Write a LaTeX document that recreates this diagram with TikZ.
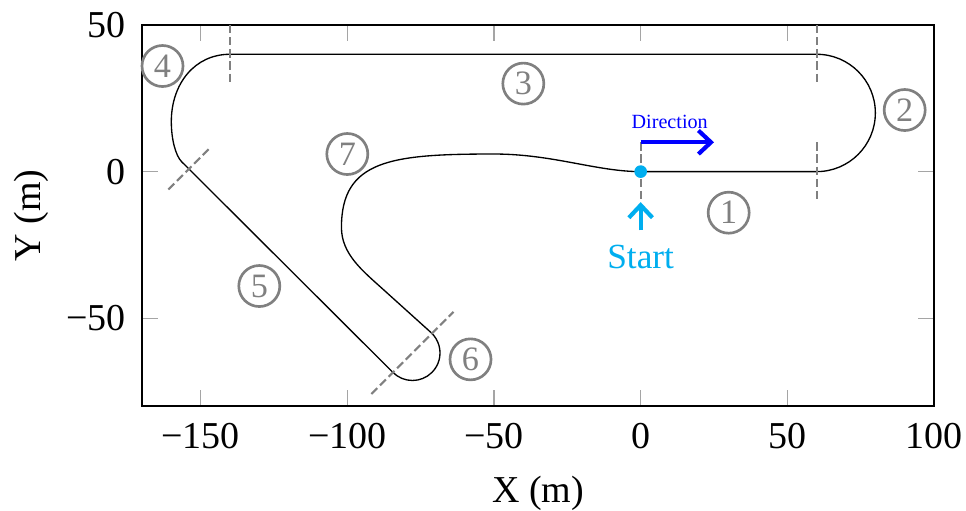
\documentclass[tikz,border=0pt]{standalone}
\usepackage{fontspec}
\setmainfont{Liberation Serif}
\usetikzlibrary{arrows.meta}
\definecolor{startcyan}{RGB}{0,174,239}
\definecolor{markgray}{RGB}{128,128,128}
\definecolor{tickgray}{RGB}{165,165,165}
\begin{document}
\begin{tikzpicture}[x=0.7721pt,y=0.7721pt,
  track/.style={black, line width=0.35pt},
  marker/.style={markgray, line width=0.55pt, dash pattern=on 2.2pt off 1pt},
  seclabel/.style={circle, draw=markgray, line width=0.7pt, text=markgray, minimum size=10.8pt, inner sep=0pt, font=\fontsize{9}{9}\selectfont},
  ticklab/.style={font=\fontsize{10}{12}\selectfont, inner sep=0pt},
  tickmark/.style={tickgray, line width=0.3pt},
  bigarrow/.style={line width=1.1pt, -{Straight Barb[length=3.3pt,width=6.2pt]}},
]
\useasboundingbox (-218.4,-115.6) rectangle (110.9,58.5);

% ticks
\foreach \x in {-150,-100,-50,0,50} {
  \draw[tickmark] (\x,-80) -- ++(0,5.45);
  \draw[tickmark] (\x,50) -- ++(0,-5.45);
}
\foreach \y in {-50,0} {
  \draw[tickmark] (-170,\y) -- ++(5.45,0);
  \draw[tickmark] (100,\y) -- ++(-5.45,0);
}
% frame
\draw[line width=0.45pt] (-170,-80) rectangle (100,50);

% tick labels
\node[ticklab, anchor=base] (xt1) at (-150,-94.3) {−150};
\node[ticklab, anchor=base] (xt2) at (-100,-94.3) {−100};
\node[ticklab, anchor=base] (xt3) at (-50,-94.3) {−50};
\node[ticklab, anchor=base] (xt4) at (0,-94.3) {0};
\node[ticklab, anchor=base] (xt5) at (50,-94.3) {50};
\node[ticklab, anchor=base] (xt6) at (100,-94.3) {100};
\node[ticklab, anchor=east] (yt1) at (-175.2,50) {50};
\node[ticklab, anchor=east] (yt2) at (-175.2,0) {0};
\node[ticklab, anchor=east] (yt3) at (-175.2,-50) {−50};

% axis labels
\node[ticklab, anchor=base] (xlab) at (-35,-112.9) {X (m)};
\node[ticklab, rotate=90, anchor=base] (ylab) at (-204.7,-15) {Y (m)};

% track
\draw[track] (0,0) -- (60,0) arc[start angle=-90, end angle=90, radius=20]
  -- (-140,40) .. controls (-152,40) and (-160,30) .. (-160,17)
  .. controls (-160,11) and (-158.5,5.4) .. (-156.5,3.4)
  -- (-84.45,-68.45) arc[start angle=225, end angle=408, radius=9.4]
  -- (-88,-39.95) .. controls (-95,-33.64) and (-102,-28) .. (-102,-19)
  .. controls (-102,4) and (-85,6) .. (-50,6)
  .. controls (-30,6) and (-15,0) .. (0,0);

% section markers
\draw[marker] (0,10) -- (0,-10);
\draw[marker] (60,10) -- (60,-10);
\draw[marker] (60,50) -- (60,30);
\draw[marker] (-140,50) -- (-140,30);
\draw[marker] (-161,-6.1) -- (-147,7.9);
\draw[marker] (-91.8,-75.8) -- (-63.8,-47.8);

% section labels
\node[seclabel] (s1) at (30,-14) {1};
\node[seclabel] (s2) at (90,21) {2};
\node[seclabel] (s3) at (-40,30) {3};
\node[seclabel] (s4) at (-163,36) {4};
\node[seclabel] (s5) at (-130,-39) {5};
\node[seclabel] (s6) at (-58,-64) {6};
\node[seclabel] (s7) at (-100,6) {7};

% start
\node[circle, fill=startcyan, minimum size=3.34pt, inner sep=0pt] (startpt) at (0,0) {};
\coordinate (starttail) at (0,-20);
\coordinate (starttip) at (0,-10.4);
\draw[bigarrow, startcyan] (starttail) -- (starttip);
\node[font=\fontsize{9.3}{11}\selectfont, text=startcyan, anchor=base, inner sep=0pt] (starttxt) at (0,-32.9) {Start};

% direction
\coordinate (dirtail) at (0,10);
\coordinate (dirtip) at (25,10);
\draw[bigarrow, blue] (dirtail) -- (dirtip);
\node[font=\fontsize{5.3}{6}\selectfont, text=blue, anchor=base, inner sep=0pt] (dirtxt) at (9.9,14.8) {Direction};
\end{tikzpicture}
\end{document}
